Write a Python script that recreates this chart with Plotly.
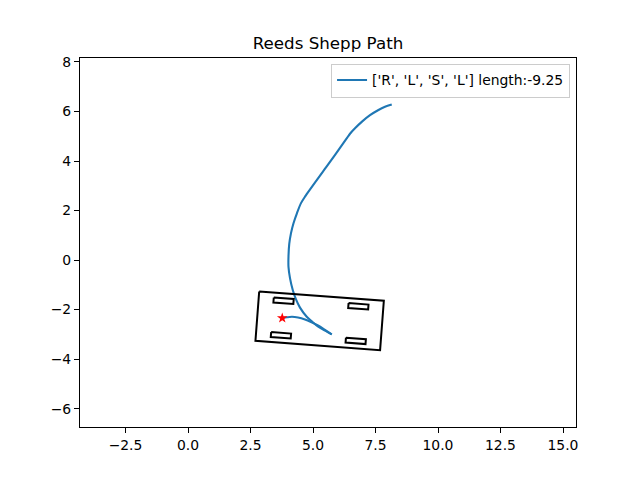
import numpy as np
import plotly.graph_objects as go

# Forward part of the path (upper end -> cusp)
fwd_x = [8.15, 7.88, 7.60, 7.28, 6.96, 6.68, 6.48, 6.34, 5.52, 4.68, 4.52, 4.36, 4.22, 4.12,
         4.05, 4.02, 4.02, 4.08, 4.19, 4.32, 4.48, 4.75, 4.96, 5.21, 5.48, 5.75]
fwd_y = [6.28, 6.19, 6.05, 5.85, 5.59, 5.32, 5.10, 4.90, 3.74, 2.56, 2.30, 1.90, 1.49, 1.09,
         0.65, 0.16, -0.28, -0.73, -1.21, -1.59, -1.92, -2.29, -2.48, -2.69, -2.85, -3.00]
# Return part (cusp -> start star)
back_x = [5.75, 5.48, 5.20, 4.92, 4.68, 4.40, 4.16, 3.96, 3.77]
back_y = [-3.00, -2.82, -2.64, -2.50, -2.40, -2.32, -2.29, -2.31, -2.34]
path_label = "['R', 'L', 'S', 'L'] length:-9.25"

# Start pose (star + car)
start_x = [3.77]
start_y = [-2.34]
start_yaw_deg = -4.3

# Car geometry
LF, LB, W = 4.0, 1.0, 2.0
WB = 3.0
TREAD = 0.7
WHEEL_LEN, WHEEL_W = 0.8, 0.2

x_ticks = [-2.5, 0.0, 2.5, 5.0, 7.5, 10.0, 12.5, 15.0]
y_ticks = [-6, -4, -2, 0, 2, 4, 6, 8]


def transform(local_pts, x, y, yaw):
    c, s = np.cos(yaw), np.sin(yaw)
    pts = np.asarray(local_pts, dtype=float)
    gx = x + c * pts[:, 0] - s * pts[:, 1]
    gy = y + s * pts[:, 0] + c * pts[:, 1]
    return gx, gy


yaw = np.deg2rad(start_yaw_deg)
body = [(-LB, W / 2), (LF, W / 2), (LF, -W / 2), (-LB, -W / 2), (-LB, W / 2)]
bx, by = transform(body, start_x[0], start_y[0], yaw)

wx, wy = [], []
for cx in (0.0, WB):
    for cy in (TREAD, -TREAD):
        wheel = [(cx - WHEEL_LEN / 2, cy + WHEEL_W / 2), (cx + WHEEL_LEN / 2, cy + WHEEL_W / 2),
                 (cx + WHEEL_LEN / 2, cy - WHEEL_W / 2), (cx - WHEEL_LEN / 2, cy - WHEEL_W / 2),
                 (cx - WHEEL_LEN / 2, cy + WHEEL_W / 2)]
        gx, gy = transform(wheel, start_x[0], start_y[0], yaw)
        wx += list(gx) + [None]
        wy += list(gy) + [None]

line_style = dict(color="#1f77b4", width=2.1, shape="spline", smoothing=0.8)

fig = go.Figure()
fig.add_trace(go.Scatter(x=fwd_x, y=fwd_y, mode="lines", name=path_label,
                         legendgroup="path", line=line_style))
fig.add_trace(go.Scatter(x=back_x, y=back_y, mode="lines", name=path_label,
                         legendgroup="path", showlegend=False, line=line_style))
fig.add_trace(go.Scatter(x=list(bx), y=list(by), mode="lines", showlegend=False,
                         line=dict(color="black", width=2)))
fig.add_trace(go.Scatter(x=wx, y=wy, mode="lines", showlegend=False,
                         line=dict(color="black", width=2)))
fig.add_trace(go.Scatter(x=start_x, y=start_y, mode="markers", showlegend=False,
                         marker=dict(symbol="star", color="red", size=8,
                                     line=dict(width=0))))

axis_common = dict(showgrid=False, zeroline=False, showline=True, mirror=True,
                   linecolor="black", linewidth=1.1, ticks="outside", ticklen=5,
                   tickwidth=1.1, tickcolor="black",
                   tickfont=dict(family="DejaVu Sans", size=13.9, color="black"))

fig.update_layout(
    width=640, height=480,
    margin=dict(l=80, r=64, t=57.6, b=52.8),
    paper_bgcolor="white", plot_bgcolor="white",
    font=dict(family="DejaVu Sans", size=13.9, color="black"),
    title=dict(text="Reeds Shepp Path", x=0.5, xanchor="center", xref="paper",
               y=(480 - 43) / 480, yanchor="middle", yref="container",
               font=dict(family="DejaVu Sans", size=16.7, color="black")),
    xaxis=dict(range=[-4.32, 15.52], tickvals=x_ticks,
               ticktext=[f"{v:.1f}".replace("-", "\u2212") for v in x_ticks], **axis_common),
    yaxis=dict(range=[-6.74, 8.16], tickvals=y_ticks,
               ticktext=[f"{v}".replace("-", "\u2212") for v in y_ticks], **axis_common),
    legend=dict(x=0.988, y=0.985, xanchor="right", yanchor="top",
                bgcolor="rgba(255,255,255,0.8)", bordercolor="#cccccc", borderwidth=1,
                font=dict(family="DejaVu Sans", size=13.9, color="black"),
                itemwidth=30, tracegroupgap=0),
    showlegend=True,
)

fig.write_html("out.html")
